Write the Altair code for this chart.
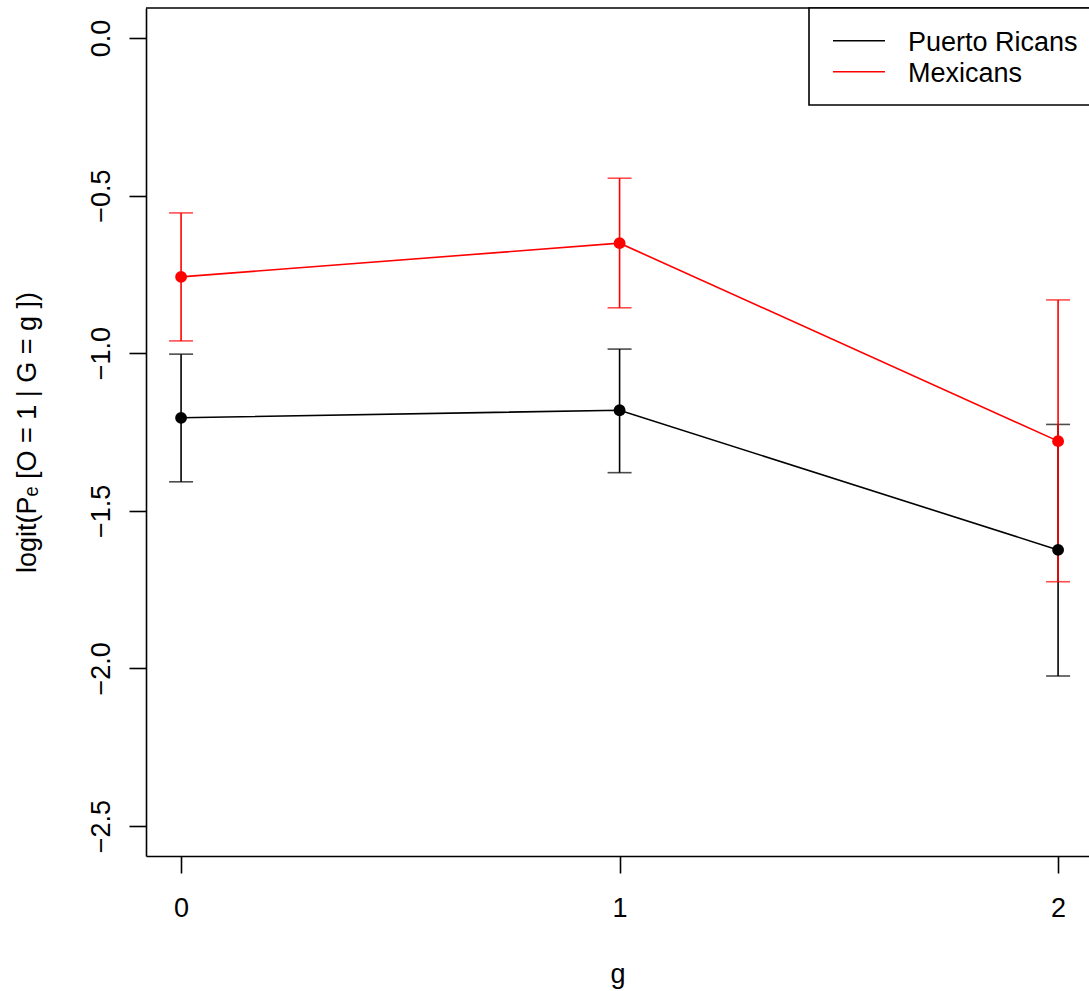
import altair as alt
import pandas as pd

# Estimated logits with confidence limits per group g
groups = [0, 1, 2]
series = ["Puerto Ricans", "Mexicans"]
colors = ["#000000", "#FF0000"]
estimates = {
    "Puerto Ricans": [-1.205, -1.181, -1.624],
    "Mexicans": [-0.758, -0.651, -1.279],
}
lower = {
    "Puerto Ricans": [-1.408, -1.379, -2.024],
    "Mexicans": [-0.961, -0.856, -1.725],
}
upper = {
    "Puerto Ricans": [-1.003, -0.987, -1.226],
    "Mexicans": [-0.555, -0.445, -0.831],
}
y_ticks = [-2.5, -2.0, -1.5, -1.0, -0.5, 0.0]
x_ticks = [0, 1, 2]

FONT = "Liberation Sans"
FS = 27
LW = 1.6
W, H = 943, 848

rows = []
for s in series:
    for i, g in enumerate(groups):
        rows.append({"series": s, "g": g, "est": estimates[s][i],
                     "lo": lower[s][i], "hi": upper[s][i]})
df = pd.DataFrame(rows)

x_enc = alt.X(
    "g:Q",
    scale=alt.Scale(domain=[-0.08, 2.0705], nice=False, zero=False),
    axis=alt.Axis(values=x_ticks, format="d", title="g", labelPadding=22,
                  titlePadding=40, labelAngle=0),
)
y_scale = alt.Scale(domain=[-2.595, 0.095], nice=False, zero=False)
y_axis = alt.Axis(values=y_ticks, format=".1f", title="logit(Pₑ [O = 1 | G = g ])",
                  labelAngle=-90, labelAlign="center", labelBaseline="bottom",
                  labelPadding=14, titlePadding=46)
color_enc = alt.Color("series:N", scale=alt.Scale(domain=series, range=colors), legend=None)

layers = []
# error bars: black first, red drawn over it
for s in series:
    sub = alt.Chart(df).transform_filter(alt.datum.series == s)
    layers.append(sub.mark_rule(strokeWidth=LW).encode(
        x=x_enc, y=alt.Y("lo:Q", scale=y_scale, axis=y_axis), y2="hi:Q", color=color_enc))
    layers.append(sub.mark_tick(orient="horizontal", size=24, thickness=LW).encode(
        x=x_enc, y=alt.Y("lo:Q", scale=y_scale), color=color_enc))
    layers.append(sub.mark_tick(orient="horizontal", size=24, thickness=LW).encode(
        x=x_enc, y=alt.Y("hi:Q", scale=y_scale), color=color_enc))
# estimate lines and points
for s in series:
    sub = alt.Chart(df).transform_filter(alt.datum.series == s)
    layers.append(sub.mark_line(strokeWidth=LW).encode(
        x=x_enc, y=alt.Y("est:Q", scale=y_scale), color=color_enc))
    layers.append(sub.mark_circle(size=140, opacity=1).encode(
        x=x_enc, y=alt.Y("est:Q", scale=y_scale), color=color_enc))

one = pd.DataFrame({"k": [0]})
# top border of the plot frame
layers.append(alt.Chart(one).mark_rule(color="black", strokeWidth=LW).encode(
    x=alt.value(0), x2=alt.value(W), y=alt.value(0)))
# legend box
layers.append(alt.Chart(one).mark_rect(fill="white", stroke="black", strokeWidth=LW).encode(
    x=alt.value(663), x2=alt.value(1100), y=alt.value(0), y2=alt.value(97)))
for i, (s, c) in enumerate(zip(series, colors)):
    ypos = 32.7 + 31 * i
    layers.append(alt.Chart(one).mark_rule(color=c, strokeWidth=LW).encode(
        x=alt.value(687), x2=alt.value(739), y=alt.value(ypos)))
    layers.append(alt.Chart(one).mark_text(
        text=s, font=FONT, fontSize=FS, align="left", baseline="middle", color="black"
    ).encode(x=alt.value(762), y=alt.value(ypos + 2.5)))

chart = alt.layer(*layers).properties(
    width=W, height=H,
    autosize=alt.AutoSizeParams(type="none"),
    padding={"left": 146, "top": 8, "right": 0, "bottom": 135},
    background="white",
).configure_view(stroke=None).configure_axis(
    grid=False, domainColor="black", domainWidth=LW, tickColor="black", tickWidth=LW,
    tickSize=17, labelFont=FONT, labelFontSize=FS, labelColor="black",
    titleFont=FONT, titleFontSize=FS, titleFontWeight="normal", titleColor="black",
)

chart.save("out.html", embed_options={"renderer": "svg", "actions": False})
